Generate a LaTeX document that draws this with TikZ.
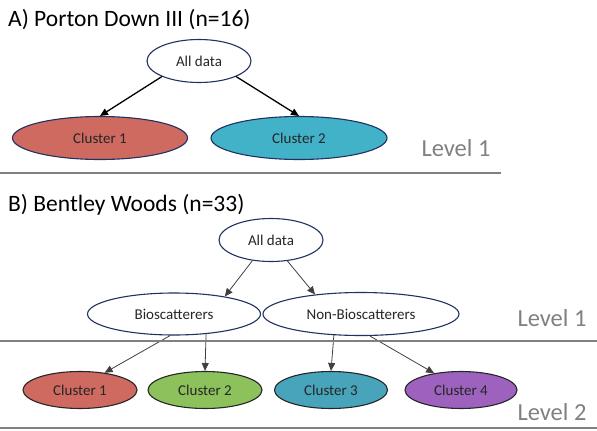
\documentclass[tikz,border=0pt]{standalone}
\usepackage{fontspec}
\setmainfont{Carlito}
\usetikzlibrary{arrows.meta,shapes.geometric}
\definecolor{navyline}{RGB}{31,50,96}
\definecolor{clred}{RGB}{206,106,96}
\definecolor{clteal}{RGB}{66,178,200}
\definecolor{clteald}{RGB}{72,164,186}
\definecolor{clgreen}{RGB}{140,193,92}
\definecolor{clpurple}{RGB}{156,98,190}
\definecolor{levgray}{RGB}{128,128,128}
\tikzset{
  bubble/.style={ellipse, draw=navyline, line width=1.1pt, inner sep=0pt,
                 font=\fontsize{15}{17}\selectfont, text=black!85},
  leaf/.style={bubble, draw=black!85},
  link/.style={-{Triangle[length=8pt,width=7pt]}, line width=1.3pt},
  thinlink/.style={-{Triangle[length=8pt,width=7pt]}, line width=0.8pt, draw=black!75},
  levtext/.style={text=levgray, font=\fontsize{24.5}{28}\selectfont, inner sep=0pt},
  heading/.style={anchor=west, inner sep=0pt, font=\fontsize{23.5}{27}\selectfont},
  rule/.style={draw=levgray, line width=1.5pt}
}

\begin{document}
\begin{tikzpicture}[x=1pt,y=-1pt]
  \useasboundingbox (0,0) rectangle (597,431);

  % A) Porton Down III
  \node[heading] (titleA) at (8,20) {A) Porton Down III (n=16)};
  \node[bubble, fill=white, minimum width=104pt, minimum height=43pt] (topA) at (199,61) {All data};
  \node[bubble, fill=clred, minimum width=175pt, minimum height=43pt] (clA1) at (100,138) {Cluster 1};
  \node[bubble, fill=clteal, minimum width=176pt, minimum height=43pt] (clA2) at (299,138) {Cluster 2};
  \draw[link] (topA.south west) -- (clA1.north);
  \draw[link] (topA.south east) -- (clA2.north);
  \node[levtext] (levA1) at (456,148) {Level 1};
  \coordinate (ruleAl) at (0,173);
  \coordinate (ruleAr) at (501,173);
  \draw[rule] (ruleAl) -- (ruleAr);

  % B) Bentley Woods
  \node[heading] (titleB) at (8,205) {B) Bentley Woods (n=33)};
  \node[bubble, fill=white, minimum width=104pt, minimum height=43pt] (topB) at (271,240) {All data};
  \node[bubble, fill=white, minimum width=173pt, minimum height=42pt] (bio) at (174,314) {Bioscatterers};
  \node[bubble, fill=white, minimum width=196pt, minimum height=43pt] (nonbio) at (361,314) {Non-Bioscatterers};
  \node[leaf, fill=clred, minimum width=114pt, minimum height=37pt] (clB1) at (80,390) {Cluster 1};
  \node[leaf, fill=clgreen, minimum width=114pt, minimum height=37pt] (clB2) at (205,390) {Cluster 2};
  \node[leaf, fill=clteald, minimum width=113pt, minimum height=37pt] (clB3) at (331,390) {Cluster 3};
  \node[leaf, fill=clpurple, minimum width=112pt, minimum height=37pt] (clB4) at (461,390) {Cluster 4};
  \draw[thinlink] (topB.228) -- (bio.19);
  \draw[thinlink] (topB.308) -- (nonbio.157);
  \draw[thinlink] (bio.-100) -- (clB1.35);
  \draw[thinlink] (bio.-32) -- (clB2.north);
  \draw[thinlink] (nonbio.218) -- (clB3.north);
  \draw[thinlink] (nonbio.292) -- (clB4.148);
  \node[levtext] (levB1) at (552,318) {Level 1};
  \node[levtext] (levB2) at (552,412) {Level 2};
  \coordinate (ruleBl) at (0,341);
  \coordinate (ruleBr) at (597,341);
  \coordinate (ruleCl) at (0,428);
  \coordinate (ruleCr) at (597,428);
  \draw[rule] (ruleBl) -- (ruleBr);
  \draw[rule] (ruleCl) -- (ruleCr);
\end{tikzpicture}
\end{document}
